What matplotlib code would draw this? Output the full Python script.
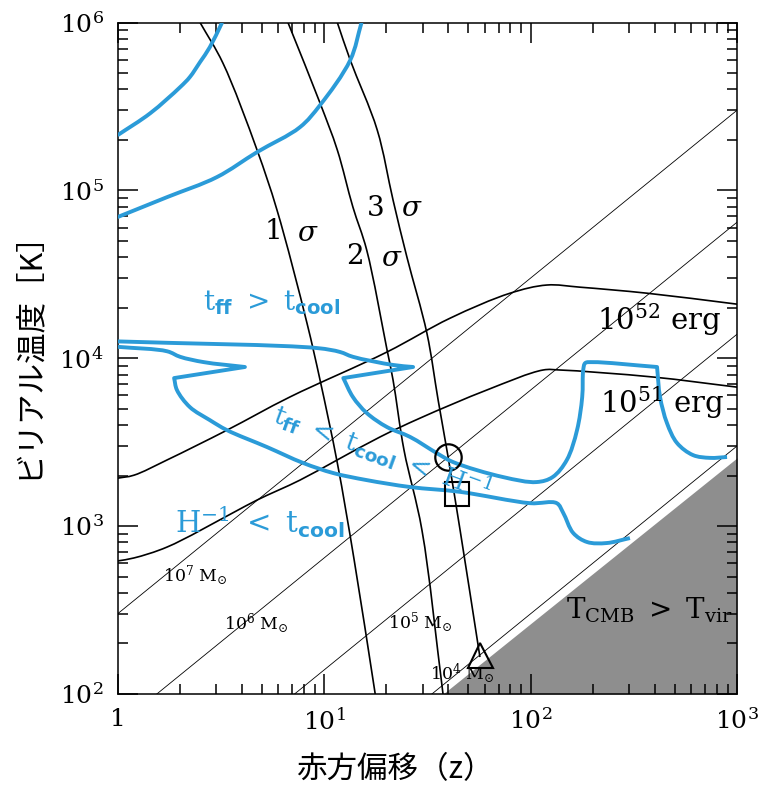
import numpy as np
import matplotlib
matplotlib.use('Agg')
import matplotlib.pyplot as plt
from matplotlib.ticker import NullFormatter, LogLocator
from matplotlib.path import Path
from matplotlib.patches import PathPatch

plt.rcParams.update({
    'font.family': ['DejaVu Serif'],
    'mathtext.fontset': 'custom',
    'mathtext.rm': 'DejaVu Serif',
    'mathtext.it': 'DejaVu Serif:italic',
    'mathtext.bf': 'DejaVu Serif:bold',
    'mathtext.sf': 'DejaVu Sans:bold',
})

# ---------------- data ----------------
# virial-mass lines (endpoints)
mass_labels = [r'$10^4\ \mathrm{M}_{\odot}$', r'$10^5\ \mathrm{M}_{\odot}$',
               r'$10^6\ \mathrm{M}_{\odot}$', r'$10^7\ \mathrm{M}_{\odot}$']
mass_z = [[33.3, 1000], [7.2, 1000], [1.55, 1000], [1.0, 1000]]
mass_T = [[100, 3.0e3], [100, 1.39e4], [100, 6.46e4], [300, 3.0e5]]
mass_label_z = [46.6, 29.2, 4.69, 2.37]
mass_label_T = [133, 265, 261, 505]

# T_CMB > T_vir region boundary
cmb_z = [37.7, 1000]
cmb_T = [100, 2.55e3]

# supernova energy curves
erg52_z = [1.0, 1.20, 1.74, 3.39, 6.84, 20.2, 40.7, 79.6, 120, 174, 367, 1000]
erg52_T = [1.93e3, 2.01e3, 2.48e3, 3.73e3, 5.88e3, 1.09e4, 1.73e4, 2.44e4, 2.73e4, 2.65e4, 2.44e4, 2.10e4]
erg51_z = [1.0, 1.20, 1.74, 3.62, 4.74, 7.65, 11.6, 18.7, 29.2, 61.5, 115, 139, 392, 1000]
erg51_T = [620, 646, 751, 1.20e3, 1.43e3, 1.88e3, 2.48e3, 3.40e3, 4.40e3, 6.47e3, 8.51e3, 8.51e3, 7.73e3, 6.73e3]

# 1, 2, 3 sigma collapse curves
s1_z = [2.51, 3.24, 4.74, 5.92, 8.27, 9.57, 11.6, 14.0, 17.7]
s1_T = [1e6, 5.73e5, 1.74e5, 7.64e4, 1.62e4, 7.41e3, 2.38e3, 628, 100]
s2_z = [6.69, 9.57, 11.6, 13.8, 16.1, 20.2, 21.6, 24.4, 29.8, 37.7]
s2_T = [1e6, 3.31e5, 1.74e5, 7.96e4, 4.41e4, 1.12e4, 7.41e3, 2.84e3, 948, 100]
s3_z = [11.6, 13.4, 18.1, 21.6, 25.2, 31.5, 35.7, 39.9, 45.6, 56.9]
s3_T = [1e6, 5.97e5, 2.29e5, 8.75e4, 4.01e4, 1.41e4, 5.64e3, 2.58e3, 948, 166]

# cooling boundaries (blue)
bA_z = [1.0, 1.44, 2.01, 2.24, 2.51, 2.80, 3.21]
bA_T = [2.13e5, 2.88e5, 4.12e5, 4.73e5, 5.81e5, 7.13e5, 1e6]
bB_z = [1.0, 1.74, 3.03, 4.74, 7.65, 9.57, 13.4, 15.2]
bB_T = [6.93e4, 9.12e4, 1.20e5, 1.69e5, 2.38e5, 3.22e5, 5.97e5, 1e6]
loop2_z = [1.0, 9.25, 11.95, 13.8, 21.6, 27.0, 12.4, 13.8, 16.1, 20.2, 26.1, 35.2, 42.1,
           73.6, 107, 128, 150, 168, 178, 180, 184, 201, 410, 424, 458, 512, 612, 740, 895]
loop2_T = [1.26e4, 1.15e4, 1.09e4, 1.02e4, 9.12e3, 8.87e3, 7.62e3, 5.88e3, 4.72e3, 3.89e3,
           3.40e3, 2.72e3, 2.41e3, 1.96e3, 1.83e3, 1.96e3, 2.48e3, 3.73e3, 5.88e3, 8.51e3,
           9.36e3, 9.48e3, 8.87e3, 5.88e3, 4.11e3, 3.13e3, 2.65e3, 2.55e3, 2.58e3]
loop1_z = [1.0, 1.74, 2.01, 2.62, 4.14, 1.88, 1.94, 2.24, 2.80, 3.39, 5.29, 7.91, 11.1, 16.1,
           26.1, 45.6, 99.5, 134, 144, 161, 188, 234, 303]
loop1_T = [1.17e4, 1.10e4, 1.02e4, 9.48e3, 8.87e3, 7.62e3, 6.47e3, 5.12e3, 4.28e3, 3.73e3,
           2.96e3, 2.38e3, 2.07e3, 1.88e3, 1.71e3, 1.60e3, 1.37e3, 1.37e3, 1.20e3, 910, 804, 793, 849]

# markers
circ_z, circ_T = [39.9], [2.58e3]
sq_z, sq_T = [44.1], [1.55e3]
tri_z, tri_T = [56.9], [171]

x_ticks = [1, 10, 100, 1000]
x_ticklabels = ['1', r'$10^1$', r'$10^2$', r'$10^3$']
y_ticks = [1e2, 1e3, 1e4, 1e5, 1e6]
y_ticklabels = [r'$10^2$', r'$10^3$', r'$10^4$', r'$10^5$', r'$10^6$']

# ---------------- drawing helpers ----------------
SX, SY = 206.5, 167.9   # display pixels per decade (x, y), used only to shape smooth curves


def smooth_path(z, T, corners=()):
    """Centripetal Catmull-Rom curve through the read points (rendered as Bezier path)."""
    P = np.column_stack([np.log10(np.asarray(z, float)) * SX,
                         np.log10(np.asarray(T, float)) * SY])
    n = len(P)
    breaks = sorted(set([0, n - 1] + list(corners)))
    verts = [P[0]]
    codes = [Path.MOVETO]
    for a, b in zip(breaks[:-1], breaks[1:]):
        seg = P[a:b + 1]
        m = len(seg)
        if m == 2:
            verts.append(seg[1])
            codes.append(Path.LINETO)
            continue
        ext = np.vstack([2 * seg[0] - seg[1], seg, 2 * seg[-1] - seg[-2]])
        for i in range(1, m):
            p0, p1, p2, p3 = ext[i - 1], ext[i], ext[i + 1], ext[i + 2]
            d1 = np.hypot(*(p1 - p0)) ** 0.5
            d2 = np.hypot(*(p2 - p1)) ** 0.5
            d3 = np.hypot(*(p3 - p2)) ** 0.5
            c1 = (d1 ** 2 * p2 - d2 ** 2 * p0 + (2 * d1 ** 2 + 3 * d1 * d2 + d2 ** 2) * p1) / (3 * d1 * (d1 + d2))
            c2 = (d3 ** 2 * p1 - d2 ** 2 * p3 + (2 * d3 ** 2 + 3 * d3 * d2 + d2 ** 2) * p2) / (3 * d3 * (d3 + d2))
            verts += [c1, c2, p2]
            codes += [Path.CURVE4] * 3
    V = np.array(verts)
    V = np.column_stack([10 ** (V[:, 0] / SX), 10 ** (V[:, 1] / SY)])
    return Path(V, codes)


def draw_curve(ax, z, T, color, lw, corners=(), zorder=3):
    ax.add_patch(PathPatch(smooth_path(z, T, corners), fill=False, ec=color, lw=lw,
                           transform=ax.transData, zorder=zorder,
                           capstyle='butt', joinstyle='round'))


# ---------------- figure ----------------
BLUE = '#2b9bd8'
fig = plt.figure(figsize=(7.62, 7.88), dpi=100)
ax = fig.add_axes([117.5 / 762, 1 - 694 / 788, 619.5 / 762, 671.5 / 788])
ax.set_xscale('log')
ax.set_yscale('log')
ax.set_xlim(1, 1000)
ax.set_ylim(100, 1e6)

# shaded region
ax.fill_between(cmb_z, cmb_T, [100, 100], color='#8e8e8e', lw=0, zorder=1)

for zz, tt in zip(mass_z, mass_T):
    ax.plot(zz, tt, color='black', lw=0.6, zorder=2)
for lab, zz, tt in zip(mass_labels, mass_label_z, mass_label_T):
    ax.text(zz, tt, lab, fontsize=12.5, ha='center', va='center', zorder=6)

for zz, tt in [(erg52_z, erg52_T), (erg51_z, erg51_T), (s1_z, s1_T), (s2_z, s2_T), (s3_z, s3_T)]:
    draw_curve(ax, zz, tt, 'black', 1.2)

draw_curve(ax, bA_z, bA_T, BLUE, 2.8, zorder=4)
draw_curve(ax, bB_z, bB_T, BLUE, 2.8, zorder=4)
draw_curve(ax, loop2_z, loop2_T, BLUE, 2.8, corners=(5, 6, 22), zorder=4)
draw_curve(ax, loop1_z, loop1_T, BLUE, 2.8, corners=(4, 5), zorder=4)

ax.plot(circ_z, circ_T, 'o', ms=19, mfc='none', mec='black', mew=1.6, zorder=5)
ax.plot(sq_z, sq_T, 's', ms=17, mfc='none', mec='black', mew=1.5, zorder=5)
ax.plot(tri_z, tri_T, '^', ms=18, mfc='none', mec='black', mew=1.5, zorder=5)

# sigma labels
for txt, zz, tt in [('1', 5.66, 5.65e4), (r'$\sigma$', 8.37, 5.57e4),
                    ('2', 14.1, 4.01e4), (r'$\sigma$', 21.3, 3.95e4),
                    ('3', 17.7, 7.85e4), (r'$\sigma$', 26.7, 7.85e4)]:
    ax.text(zz, tt, txt, fontsize=20, ha='center', va='center', zorder=6)

ax.text(210, 1.69e4, r'$10^{52}\ \mathrm{erg}$', fontsize=21, ha='left', va='center', zorder=6)
ax.text(217, 5.41e3, r'$10^{51}\ \mathrm{erg}$', fontsize=21, ha='left', va='center', zorder=6)

ax.text(5.54, 2.13e4, r'$\mathrm{t}_{\mathsf{ff}}\ >\ \mathrm{t}_{\mathsf{cool}}$', color=BLUE,
        fontsize=20, ha='center', va='center', zorder=6)
ax.text(19.1, 2.76e3, r'$\mathrm{t}_{\mathsf{ff}}\ <\ \mathrm{t}_{\mathsf{cool}}\ <\ \mathrm{H}^{-1}$',
        color=BLUE, fontsize=19, ha='center', va='center', rotation=-20,
        rotation_mode='anchor', zorder=6)
ax.text(4.90, 1.06e3, r'$\mathrm{H}^{-1}\ <\ \mathrm{t}_{\mathsf{cool}}$', color=BLUE,
        fontsize=21, ha='center', va='center', zorder=6)
ax.text(379, 316, r'$\mathrm{T}_{\mathrm{CMB}}\ >\ \mathrm{T}_{\mathrm{vir}}$', fontsize=20,
        ha='center', va='center', zorder=6)

ax.set_xticks(x_ticks, labels=x_ticklabels)
ax.set_yticks(y_ticks, labels=y_ticklabels)
ax.xaxis.set_minor_locator(LogLocator(base=10, subs=range(2, 10)))
ax.yaxis.set_minor_locator(LogLocator(base=10, subs=range(2, 10)))
ax.xaxis.set_minor_formatter(NullFormatter())
ax.yaxis.set_minor_formatter(NullFormatter())
ax.tick_params(which='both', direction='in', top=True, right=True, width=1.1, color='black')
ax.tick_params(which='major', length=14.5, labelsize=18)
ax.tick_params(which='minor', length=7.5)
ax.tick_params(axis='y', which='major', pad=10)
ax.tick_params(axis='x', which='major', pad=10)
for sp in ax.spines.values():
    sp.set_linewidth(1.1)

cjk = ['Noto Sans CJK JP', 'DejaVu Sans']
fig.text(395 / 762, 1 - 770 / 788, '赤方偏移（z）', family=cjk, fontsize=22,
         ha='center', va='center')
fig.text(28 / 762, 1 - 347 / 788, 'ビリアル温度［K］', family=cjk, fontsize=22,
         ha='center', va='center', rotation=90)

fig.savefig('out.png', dpi=100, facecolor='white')
